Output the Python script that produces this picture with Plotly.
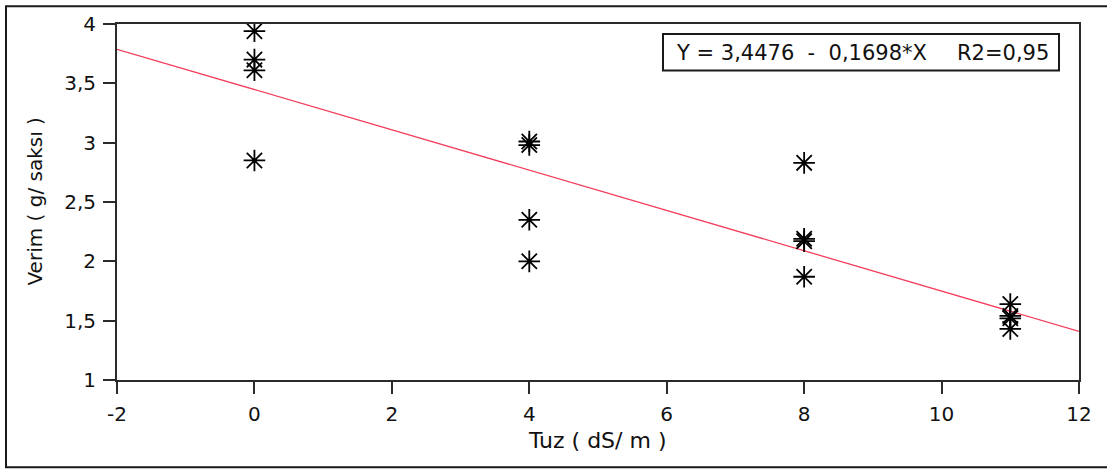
import plotly.graph_objects as go

# Salinity treatments (dS/m) and yield per pot (g/saksı)
tuz = [0, 0, 0, 0, 4, 4, 4, 4, 8, 8, 8, 8, 11, 11, 11, 11]
verim = [3.94, 3.70, 3.61, 2.85,
         3.01, 2.98, 2.35, 2.00,
         2.83, 2.19, 2.17, 1.87,
         1.64, 1.54, 1.52, 1.43]

# Fitted regression line: Y = a + b*X
a_coef = 3.4476
b_coef = -0.1698
r2_text = "R2=0,95"
line_x = [-2, 12]

x_tick_vals = [-2, 0, 2, 4, 6, 8, 10, 12]
x_tick_text = ["-2", "0", "2", "4", "6", "8", "10", "12"]
y_tick_vals = [1, 1.5, 2, 2.5, 3, 3.5, 4]
y_tick_text = ["1", "1,5", "2", "2,5", "3", "3,5", "4"]

FONT = "DejaVu Sans"
AXIS_COL = "#2b2b2b"
TEXT_COL = "#111111"

fig = go.Figure()

fig.add_trace(go.Scatter(
    x=line_x,
    y=[a_coef + b_coef * v for v in line_x],
    mode="lines",
    line=dict(color="#f2405e", width=1.3),
    showlegend=False,
    hoverinfo="skip",
))

fig.add_trace(go.Scatter(
    x=tuz,
    y=verim,
    mode="markers",
    marker=dict(symbol="asterisk-open", size=18, color="#000000",
                line=dict(color="#000000", width=1.8)),
    showlegend=False,
))

axis_common = dict(
    showline=True, linecolor=AXIS_COL, linewidth=2, mirror=True,
    ticks="outside", ticklen=12, tickwidth=2, tickcolor=AXIS_COL,
    showgrid=False, zeroline=False,
    tickfont=dict(family=FONT, size=20, color=TEXT_COL),
    ticklabelstandoff=3,
)

fig.update_xaxes(range=[-2, 12], tickmode="array",
                 tickvals=x_tick_vals, ticktext=x_tick_text, **axis_common)
fig.update_yaxes(range=[1, 4], tickmode="array",
                 tickvals=y_tick_vals, ticktext=y_tick_text, **axis_common)

W, H = 1107, 471
L, R, T, B = 117, 28, 21, 91
pw, ph = W - L - R, H - T - B


def px_x(p):
    return (p - L) / pw


def px_y(p):
    return (H - B - p) / ph


# Equation box
fig.add_shape(type="rect", xref="paper", yref="paper",
              x0=px_x(663), x1=px_x(1059), y0=px_y(68), y1=px_y(31),
              line=dict(color="#1a1a1a", width=2), fillcolor="white")

NB = "\u00a0"
eq_text = "Y" + NB + "=" + NB + str(a_coef).replace(".", ",") + NB * 2 + "-" + NB * 2 \
    + str(-b_coef).replace(".", ",") + "*X"
fig.add_annotation(xref="paper", yref="paper", x=px_x(674), y=px_y(50),
                   xanchor="left", yanchor="middle", showarrow=False,
                   text=eq_text,
                   font=dict(family=FONT, size=21, color=TEXT_COL))
fig.add_annotation(xref="paper", yref="paper", x=px_x(955), y=px_y(50),
                   xanchor="left", yanchor="middle", showarrow=False,
                   text=r2_text,
                   font=dict(family=FONT, size=21, color=TEXT_COL))

# Axis titles
fig.add_annotation(xref="paper", yref="paper", x=px_x(597), y=px_y(441),
                   xanchor="center", yanchor="middle", showarrow=False,
                   text="Tuz ( dS/ m )",
                   font=dict(family=FONT, size=22, color=TEXT_COL))
fig.add_annotation(xref="paper", yref="paper", x=px_x(35), y=px_y(200),
                   xanchor="center", yanchor="middle", showarrow=False,
                   textangle=-90, text="Verim ( g/ saksı )",
                   font=dict(family=FONT, size=20, color=TEXT_COL))

# Outer frame around the whole chart
fig.add_shape(type="rect", xref="paper", yref="paper",
              x0=px_x(6), x1=px_x(1115), y0=px_y(468), y1=px_y(3),
              line=dict(color="#1a1a1a", width=2), layer="below")

fig.update_layout(
    width=W, height=H,
    margin=dict(l=L, r=R, t=T, b=B),
    paper_bgcolor="white", plot_bgcolor="white",
    separators=",.",
    font=dict(family=FONT),
)

fig.write_html("out.html")
